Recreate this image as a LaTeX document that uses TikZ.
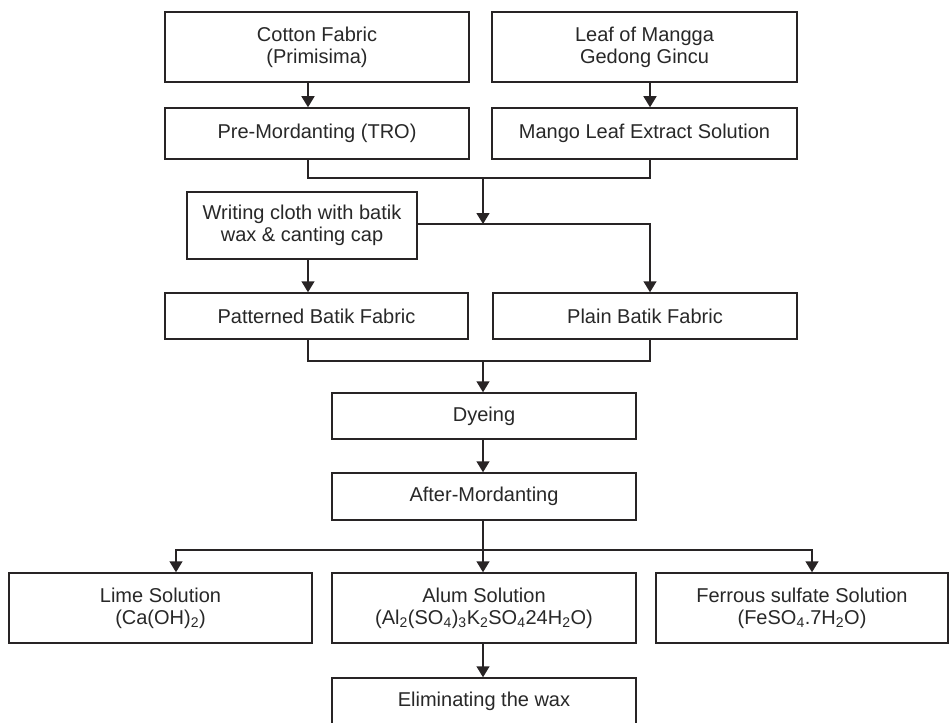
\documentclass[tikz,border=0pt]{standalone}
\usepackage{fontspec}
\setmainfont{Liberation Sans}
\usetikzlibrary{arrows.meta}
\definecolor{ink}{RGB}{40,36,37}
\definecolor{txt}{RGB}{40,40,40}
\tikzset{
  box/.style={draw=ink, line width=1.5pt, fill=white, text=txt, align=center,
    inner sep=0pt, font=\fontsize{20}{22}\selectfont},
  link/.style={draw=ink, line width=1.5pt},
  arr/.style={link, -{Triangle[length=11pt,width=13pt]}}
}
\begin{document}
\begin{tikzpicture}[x=1pt,y=-1pt]
\useasboundingbox (0,0) rectangle (949,722);
\clip (0,0) rectangle (949,722);
\fill[white] (0,0) rectangle (949,722);
% nodes
\node[box, minimum width=304pt, minimum height=70pt] (cotton) at (317,47) {Cotton Fabric\\(Primisima)};
\node[box, minimum width=305pt, minimum height=70pt] (leaf) at (644.5,47) {Leaf of Mangga\\Gedong Gincu};
\node[box, minimum width=304pt, minimum height=51pt] (pre) at (317,133.5) {Pre-Mordanting (TRO)};
\node[box, minimum width=305pt, minimum height=51pt] (mango) at (644.5,133.5) {Mango Leaf Extract Solution};
\node[box, minimum width=230pt, minimum height=67pt] (writing) at (302,225.5) {Writing cloth with batik\\wax \& canting cap};
\node[box, minimum width=303pt, minimum height=46pt] (patterned) at (316.5,316) {Patterned Batik Fabric};
\node[box, minimum width=304pt, minimum height=46pt] (plain) at (645,316) {Plain Batik Fabric};
\node[box, minimum width=304pt, minimum height=46pt] (dyeing) at (484,416) {Dyeing};
\node[box, minimum width=304pt, minimum height=47pt] (after) at (484,496.5) {After-Mordanting};
\node[box, minimum width=303pt, minimum height=70pt] (lime) at (160.5,608) {Lime Solution\\(Ca(OH)\textsubscript{2})};
\node[box, minimum width=304pt, minimum height=70pt] (alum) at (484,608) {Alum Solution\\(Al\textsubscript{2}(SO\textsubscript{4})\textsubscript{3}K\textsubscript{2}SO\textsubscript{4}24H\textsubscript{2}O)};
\node[box, minimum width=292pt, minimum height=70pt] (ferrous) at (802,608) {Ferrous sulfate Solution\\(FeSO\textsubscript{4}.7H\textsubscript{2}O)};
\node[box, minimum width=304pt, minimum height=46pt] (elim) at (484,701) {Eliminating the wax};
% helper coordinates
\coordinate (xa) at (308,0);
\coordinate (xb) at (650,0);
\coordinate (xl) at (176,0);
\coordinate (xf) at (812,0);
\coordinate (j1) at (483,178);
\coordinate (j2) at (483,224);
\coordinate (j3) at (483,361);
\coordinate (j4) at (483,550);
% connectors
\draw[arr] (cotton.south -| xa) -- (pre.north -| xa);
\draw[arr] (leaf.south -| xb) -- (mango.north -| xb);
\draw[link] (pre.south -| xa) -- (xa |- j1) -- (xb |- j1) -- (mango.south -| xb);
\draw[arr] (j1) -- (j2);
\draw[arr] (writing.east |- j2) -- (xb |- j2) -- (plain.north -| xb);
\draw[arr] (writing.south -| xa) -- (patterned.north -| xa);
\draw[link] (patterned.south -| xa) -- (xa |- j3) -- (xb |- j3) -- (plain.south -| xb);
\draw[arr] (j3) -- (dyeing.north -| j3);
\draw[arr] (dyeing.south -| j3) -- (after.north -| j3);
\draw[link] (after.south -| j4) -- (j4);
\draw[arr] (j4) -- (xl |- j4) -- (lime.north -| xl);
\draw[arr] (j4) -- (xf |- j4) -- (ferrous.north -| xf);
\draw[arr] (j4) -- (alum.north -| j4);
\draw[arr] (alum.south -| j4) -- (elim.north -| j4);
\end{tikzpicture}
\end{document}
